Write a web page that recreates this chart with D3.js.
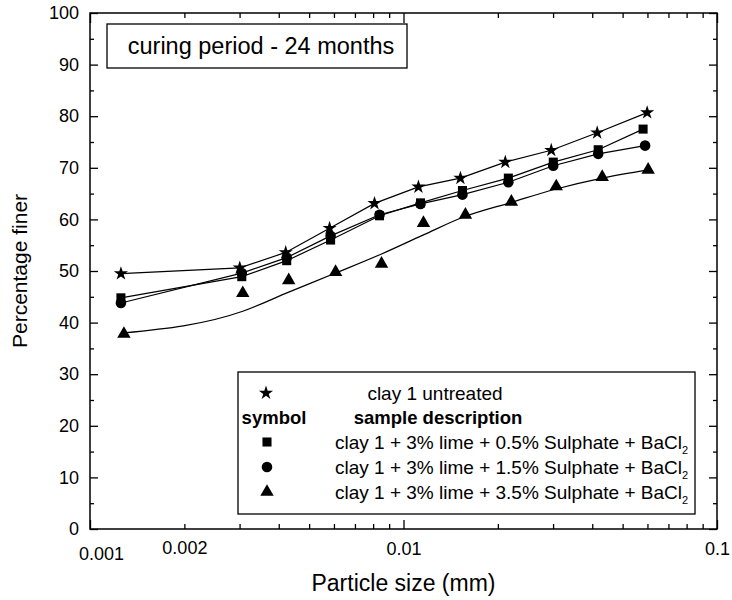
<!DOCTYPE html>
<html>
<head>
<meta charset="utf-8">
<script src="https://cdn.jsdelivr.net/npm/d3@7"></script>
<style>
  body { margin: 0; background: #fff; }
  svg text { font-family: "Liberation Sans", Arial, sans-serif; fill: #000; }
</style>
</head>
<body>
<div id="chart"></div>
<script>
// particle size (mm) and percentage finer
const untreatedX = [0.001255, 0.003004, 0.00421, 0.005811, 0.008082, 0.01116, 0.01519, 0.02112, 0.0296, 0.04148, 0.05987];
const untreatedY = [49.5, 50.6, 53.6, 58.3, 63.1, 66.3, 68.0, 71.1, 73.4, 76.8, 80.7];
const sulph05X = [0.001255, 0.003049, 0.004241, 0.005854, 0.008385, 0.01133, 0.01542, 0.0216, 0.03004, 0.04179, 0.05811];
const sulph05Y = [44.8, 48.9, 52.0, 56.0, 60.7, 63.2, 65.6, 68.0, 71.1, 73.5, 77.5];
const sulph15X = [0.001255, 0.003049, 0.004241, 0.005854, 0.008385, 0.01133, 0.01542, 0.0216, 0.03004, 0.04179, 0.05897];
const sulph15Y = [43.8, 49.6, 52.6, 56.8, 60.9, 63.0, 64.8, 67.2, 70.4, 72.7, 74.3];
const sulph35X = [0.001283, 0.003071, 0.004304, 0.006073, 0.00851, 0.01158, 0.01576, 0.02208, 0.03071, 0.04304, 0.06031];
const sulph35Y = [37.8, 45.7, 48.2, 49.8, 51.4, 59.3, 60.9, 63.4, 66.4, 68.2, 69.6];
// smoothed curve drawn through the 3.5% series
const sulph35FitY = [38.0, 42.2, 45.9, 49.6, 53.3, 57.0, 60.6, 63.3, 65.9, 68.0, 69.6];

const yMajor = d3.range(0, 101, 10);
const yMinor = d3.range(5, 100, 10);
const xMajor = [0.001, 0.01, 0.1];
const xMinor = [2, 3, 4, 5, 6, 7, 8, 9].map(d => d * 0.001).concat([2, 3, 4, 5, 6, 7, 8, 9].map(d => d * 0.01));
const xLabelValues = [0.001, 0.002, 0.01, 0.1];
const xLabels = ["0.001", "0.002", "0.01", "0.1"];

const legendRows = [
    "clay 1 + 3% lime + 0.5% Sulphate + BaCl",
    "clay 1 + 3% lime + 1.5% Sulphate + BaCl",
    "clay 1 + 3% lime + 3.5% Sulphate + BaCl"
];

const width = 732, height = 600;
const margin = { left: 90, top: 13, right: 15, bottom: 71 };

const svg = d3.select("#chart").append("svg")
    .attr("width", width)
    .attr("height", height)
    .attr("viewBox", `0 0 ${width} ${height}`);

const x = d3.scaleLog().domain([0.001, 0.1]).range([margin.left, width - margin.right]);
const y = d3.scaleLinear().domain([0, 100]).range([height - margin.bottom, margin.top]);

const x0 = x.range()[0], x1 = x.range()[1];
const y0 = y.range()[0], y1 = y.range()[1];

// axes, ticks pointing inwards
function styleAxis(g) {
    g.select(".domain").remove();
    g.selectAll("line").attr("stroke", "#000").attr("stroke-width", 1.3);
    g.selectAll("text").style("font-size", "18px");
}

svg.append("g").attr("transform", `translate(${x0},0)`)
    .call(d3.axisLeft(y).tickValues(yMajor).tickSize(-8).tickPadding(11).tickFormat(d3.format("d")))
    .call(styleAxis);
svg.append("g").attr("transform", `translate(${x0},0)`)
    .call(d3.axisLeft(y).tickValues(yMinor).tickSize(-4).tickFormat(""))
    .call(styleAxis);
svg.append("g").attr("transform", `translate(${x1},0)`)
    .call(d3.axisRight(y).tickValues(yMajor).tickSize(-8).tickFormat(""))
    .call(styleAxis);
svg.append("g").attr("transform", `translate(${x1},0)`)
    .call(d3.axisRight(y).tickValues(yMinor).tickSize(-4).tickFormat(""))
    .call(styleAxis);

svg.append("g").attr("transform", `translate(0,${y0})`)
    .call(d3.axisBottom(x).tickValues(xMajor).tickSize(-9).tickFormat(""))
    .call(styleAxis);
svg.append("g").attr("transform", `translate(0,${y0})`)
    .call(d3.axisBottom(x).tickValues(xMinor).tickSize(-5).tickFormat(""))
    .call(styleAxis);
svg.append("g").attr("transform", `translate(0,${y1})`)
    .call(d3.axisTop(x).tickValues(xMajor).tickSize(-10).tickFormat(""))
    .call(styleAxis);
svg.append("g").attr("transform", `translate(0,${y1})`)
    .call(d3.axisTop(x).tickValues(xMinor).tickSize(-5).tickFormat(""))
    .call(styleAxis);

// x tick labels (0.002 sits on a minor tick)
const xLab = svg.append("g").attr("transform", `translate(0,${y0})`)
    .call(d3.axisBottom(x).tickValues(xLabelValues).tickSize(0).tickPadding(13).tickFormat((d, i) => xLabels[i]))
    .call(styleAxis);
xLab.selectAll("line").remove();
xLab.selectAll(".tick text").filter(d => d === 0.001).attr("dx", 11).attr("dy", "1.0em");
xLab.selectAll(".tick text").filter(d => d === 0.002).attr("dy", "0.65em");

svg.append("rect")
    .attr("x", x0).attr("y", y1)
    .attr("width", x1 - x0).attr("height", y0 - y1)
    .attr("fill", "none").attr("stroke", "#000").attr("stroke-width", 1.5);

// axis titles
svg.append("text")
    .attr("x", (x0 + x1) / 2).attr("y", 591)
    .attr("text-anchor", "middle")
    .style("font-size", "23px")
    .text("Particle size (mm)");
svg.append("text")
    .attr("transform", `translate(27,${(y0 + y1) / 2}) rotate(-90)`)
    .attr("text-anchor", "middle")
    .style("font-size", "21px")
    .text("Percentage finer");

// series
const series = [
    { xs: untreatedX, ys: untreatedY, ls: untreatedY, sym: d3.symbolStar, size: 62, curve: d3.curveLinear },
    { xs: sulph05X, ys: sulph05Y, ls: sulph05Y, sym: d3.symbolSquare, size: 82, curve: d3.curveLinear },
    { xs: sulph15X, ys: sulph15Y, ls: sulph15Y, sym: d3.symbolCircle, size: 88, curve: d3.curveLinear },
    { xs: sulph35X, ys: sulph35Y, ls: sulph35FitY, sym: d3.symbolTriangle, size: 78, curve: d3.curveMonotoneX }
];

series.forEach(s => {
    const linePts = s.xs.map((d, i) => [d, s.ls[i]]);
    const pts = s.xs.map((d, i) => [d, s.ys[i]]);
    const line = d3.line().x(d => x(d[0])).y(d => y(d[1])).curve(s.curve);
    svg.append("path")
        .attr("d", line(linePts))
        .attr("fill", "none")
        .attr("stroke", "#000")
        .attr("stroke-width", 1.2);
    svg.selectAll(null)
        .data(pts)
        .join("path")
            .attr("transform", d => `translate(${x(d[0])},${y(d[1])})`)
            .attr("d", d3.symbol().type(s.sym).size(s.size))
            .attr("fill", "#000");
});

// title box
const tb = svg.append("g");
tb.append("rect")
    .attr("x", 107).attr("y", 24).attr("width", 300).attr("height", 44)
    .attr("fill", "#fff").attr("stroke", "#000").attr("stroke-width", 1.3);
tb.append("text")
    .attr("x", 261).attr("y", 54)
    .attr("text-anchor", "middle")
    .style("font-size", "23.5px")
    .text("curing period - 24 months");

// legend
const lg = svg.append("g");
lg.append("rect")
    .attr("x", 238).attr("y", 372).attr("width", 457).attr("height", 142)
    .attr("fill", "#fff").attr("stroke", "#000").attr("stroke-width", 1.3);
lg.append("path")
    .attr("transform", "translate(266,393)")
    .attr("d", d3.symbol().type(d3.symbolStar).size(62));
lg.append("text")
    .attr("x", 435).attr("y", 400)
    .attr("text-anchor", "middle")
    .style("font-size", "19px")
    .text("clay 1 untreated");
lg.append("text")
    .attr("x", 274).attr("y", 424)
    .attr("text-anchor", "middle")
    .style("font-size", "18.5px").style("font-weight", "bold")
    .text("symbol");
lg.append("text")
    .attr("x", 438).attr("y", 424)
    .attr("text-anchor", "middle")
    .style("font-size", "18.5px").style("font-weight", "bold")
    .text("sample description");

const rowY = [442, 467, 492];
legendRows.forEach((t, i) => {
    const s = series[i + 1];
    lg.append("path")
        .attr("transform", `translate(267,${rowY[i]})`)
        .attr("d", d3.symbol().type(s.sym).size(s.size));
    const txt = lg.append("text")
        .attr("x", 335).attr("y", rowY[i] + 7)
        .style("font-size", "19px");
    txt.append("tspan").text(t);
    txt.append("tspan").attr("dy", 5).style("font-size", "11px").text("2");
});
</script>
</body>
</html>
